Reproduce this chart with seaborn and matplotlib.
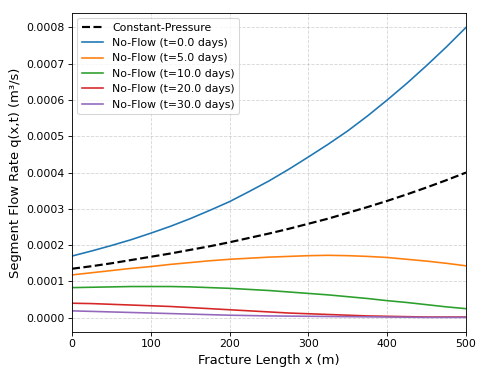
import numpy as np
import pandas as pd
import matplotlib
matplotlib.use("Agg")
import matplotlib.pyplot as plt
import seaborn as sns

# fracture position (m)
x_m = [0, 25, 50, 75, 100, 125, 150, 175, 200, 225, 250,
       275, 300, 325, 350, 375, 400, 425, 450, 475, 500]

# segment flow rates, in 1e-6 m3/s
q_const_pressure = [135, 142, 150, 159, 168, 177, 187, 197, 208, 220, 232,
                    245, 259, 273, 289, 305, 322, 340, 359, 379, 400]
q_t0 = [170, 184, 199, 215, 233, 252, 273, 296, 320, 348, 377,
        409, 443, 478, 515, 556, 600, 646, 695, 746, 800]
q_t5 = [118, 124, 130, 136, 141, 147, 152, 157, 161, 164, 167,
        169, 171, 172, 171, 169, 166, 161, 156, 150, 143]
q_t10 = [83, 84, 85, 86, 86, 86, 85, 83, 81, 78, 75,
         71, 67, 63, 58, 53, 47, 42, 36, 30, 25]
q_t20 = [40, 39, 37, 35, 33, 31, 28, 25, 22, 19, 16,
         13, 11, 9, 7, 5, 4, 3, 2, 2, 2]
q_t30 = [19, 17.5, 16, 14.5, 13, 11.5, 10, 8.5, 7, 6, 5,
         4.5, 4, 3.5, 3, 2.5, 2, 1.5, 1, 1, 1]

times = [0.0, 5.0, 10.0, 20.0, 30.0]
no_flow = [q_t0, q_t5, q_t10, q_t20, q_t30]
colors = ["#1f77b4", "#ff7f0e", "#2ca02c", "#d62728", "#9467bd"]
scale = 1e-6

fig = plt.figure(figsize=(480 / 78, 378 / 78), dpi=78)
ax = fig.add_axes([0.15, 0.122, 0.821, 0.844])

sns.lineplot(x=x_m, y=np.array(q_const_pressure) * scale, ax=ax, color="black",
             linestyle="--", linewidth=2, label="Constant-Pressure")
for t, q, c in zip(times, no_flow, colors):
    sns.lineplot(x=x_m, y=np.array(q) * scale, ax=ax, color=c, linewidth=1.5,
                 label=f"No-Flow (t={t} days)")

ax.set_xlim(0, 500)
ax.set_xlabel("Fracture Length x (m)", fontsize=12)
ax.set_ylabel("Segment Flow Rate q(x,t) (m³/s)", fontsize=12)
ax.yaxis.set_major_formatter(matplotlib.ticker.FormatStrFormatter("%.4f"))
ax.grid(True, linestyle="--", alpha=0.5)
ax.legend(loc="upper left")

fig.savefig("out.png", dpi=78)
